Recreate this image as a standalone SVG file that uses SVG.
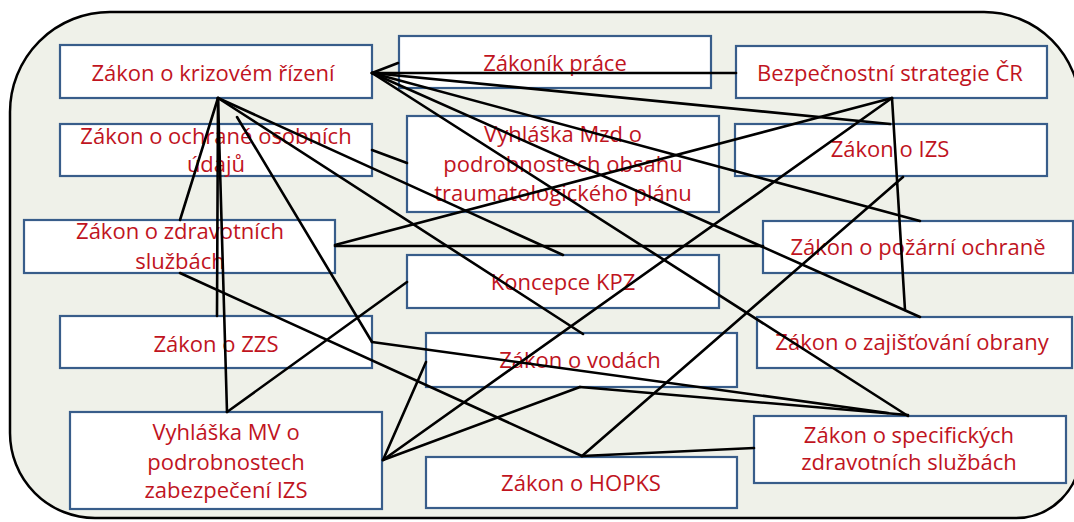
<svg xmlns="http://www.w3.org/2000/svg" width="1074" height="522" viewBox="0 0 1074 522">
<style>
.bg{fill:#eff1e9;stroke:#000;stroke-width:2.5}
.box{fill:#fff;stroke:#385d8a;stroke-width:2.2}
.t{font-family:"Open Sans","Liberation Sans",sans-serif;font-size:22px;fill:#c0141e;text-anchor:middle}
.c line{stroke:#000;stroke-width:2.6;stroke-linecap:round}
</style>
<rect width="1074" height="522" fill="#fff"/>
<path class="bg" d="M110,12 H984 A96,96 0 0 1 1080,108 V454 A64,64 0 0 1 1016,518 H95 A85,85 0 0 1 10,433 V112 A100,100 0 0 1 110,12 Z"/>
<g id="krizove-rizeni"><rect class="box" x="60" y="45" width="312" height="53"/><text class="t" x="213" y="81">Zákon o krizovém řízení</text></g>
<g id="zakonik-prace"><rect class="box" x="399" y="36" width="312" height="52"/><text class="t" x="555" y="71">Zákoník práce</text></g>
<g id="bezpecnostni-strategie"><rect class="box" x="736" y="46" width="311" height="52"/><text class="t" x="890" y="81">Bezpečnostní strategie ČR</text></g>
<g id="ochrana-udaju"><rect class="box" x="60" y="124" width="312" height="52"/><text class="t" x="216" y="144">Zákon o ochraně osobních</text><text class="t" x="216" y="172">údajů</text></g>
<g id="vyhlaska-mzd"><rect class="box" x="407" y="116" width="312" height="96"/><text class="t" x="563" y="142">Vyhláška Mzd o</text><text class="t" x="563" y="172">podrobnostech obsahu</text><text class="t" x="563" y="201">traumatologického plánu</text></g>
<g id="zakon-izs"><rect class="box" x="735" y="124" width="312" height="52"/><text class="t" x="890" y="157">Zákon o IZS</text></g>
<g id="zdravotni-sluzby"><rect class="box" x="24" y="220" width="311" height="53"/><text class="t" x="180" y="239">Zákon o zdravotních</text><text class="t" x="180" y="269">službách</text></g>
<g id="pozarni-ochrana"><rect class="box" x="763" y="221" width="310" height="52"/><text class="t" x="918" y="255">Zákon o požární ochraně</text></g>
<g id="koncepce-kpz"><rect class="box" x="407" y="255" width="312" height="53"/><text class="t" x="563" y="290">Koncepce KPZ</text></g>
<g id="zakon-zzs"><rect class="box" x="60" y="316" width="312" height="52"/><text class="t" x="216" y="352">Zákon o ZZS</text></g>
<g id="zakon-vody"><rect class="box" x="426" y="333" width="311" height="54"/><text class="t" x="580" y="368">Zákon o vodách</text></g>
<g id="zajistovani-obrany"><rect class="box" x="757" y="317" width="315" height="51"/><text class="t" x="912" y="350">Zákon o zajišťování obrany</text></g>
<g id="vyhlaska-mv"><rect class="box" x="70" y="412" width="312" height="97"/><text class="t" x="226" y="440">Vyhláška MV o</text><text class="t" x="226" y="470">podrobnostech</text><text class="t" x="226" y="498">zabezpečení IZS</text></g>
<g id="zakon-hopks"><rect class="box" x="426" y="457" width="311" height="51"/><text class="t" x="581" y="491">Zákon o HOPKS</text></g>
<g id="specificke-sluzby"><rect class="box" x="754" y="416" width="312" height="67"/><text class="t" x="909" y="443">Zákon o specifických</text><text class="t" x="909" y="470">zdravotních službách</text></g>
<g id="connectors" class="c">
<line x1="372" y1="73" x2="398" y2="63"/>
<line x1="372" y1="73" x2="736" y2="73"/>
<line x1="372" y1="73" x2="890" y2="124"/>
<line x1="372" y1="73" x2="920" y2="221"/>
<line x1="372" y1="73" x2="920" y2="317"/>
<line x1="372" y1="73" x2="908" y2="416"/>
<line x1="218" y1="98" x2="180" y2="220"/>
<line x1="218" y1="98" x2="217" y2="316"/>
<line x1="218" y1="98" x2="227" y2="412"/>
<line x1="218" y1="98" x2="563" y2="255"/>
<line x1="218" y1="98" x2="583" y2="334"/>
<line x1="237" y1="117" x2="372" y2="342"/>
<line x1="372" y1="342" x2="888" y2="413"/>
<line x1="372" y1="150" x2="407" y2="163"/>
<line x1="180" y1="273" x2="582" y2="456"/>
<line x1="582" y1="456" x2="903" y2="177"/>
<line x1="582" y1="456" x2="754" y2="448"/>
<line x1="335" y1="245" x2="892" y2="98"/>
<line x1="335" y1="246" x2="763" y2="246"/>
<line x1="892" y1="98" x2="905" y2="310"/>
<line x1="892" y1="98" x2="383" y2="460"/>
<line x1="383" y1="460" x2="426" y2="362"/>
<line x1="383" y1="460" x2="580" y2="387"/>
<line x1="580" y1="387" x2="908" y2="415"/>
<line x1="407" y1="282" x2="227" y2="412"/>
</g>
</svg>
